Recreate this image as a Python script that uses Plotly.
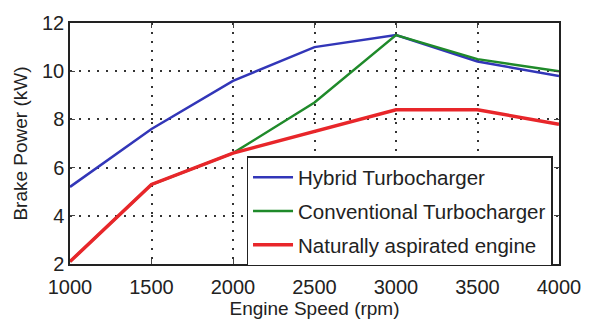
import plotly.graph_objects as go

rpm = [1000, 1500, 2000, 2500, 3000, 3500, 4000]
hybrid = [5.2, 7.6, 9.6, 11.0, 11.5, 10.4, 9.8]
conventional = [2.1, 5.3, 6.6, 8.7, 11.5, 10.5, 10.0]
natural = [2.1, 5.3, 6.6, 7.5, 8.4, 8.4, 7.8]

x_ticks = [1000, 1500, 2000, 2500, 3000, 3500, 4000]
y_ticks = [2, 4, 6, 8, 10, 12]

fig = go.Figure()
fig.add_trace(go.Scatter(x=rpm, y=hybrid, mode="lines", name="Hybrid Turbocharger",
                         line=dict(color="#3236b8", width=2.5), legendgroup="a"))
fig.add_trace(go.Scatter(x=rpm, y=conventional, mode="lines", name="Conventional Turbocharger",
                         line=dict(color="#1f8a2a", width=2.5), legendgroup="b"))
fig.add_trace(go.Scatter(x=rpm, y=natural, mode="lines", name="Naturally aspirated engine",
                         line=dict(color="#e8262a", width=3.5), legendgroup="c"))

font = "Liberation Sans, Arial, sans-serif"
fig.update_layout(
    width=593, height=327,
    margin=dict(l=70, r=33, t=15, b=62),
    paper_bgcolor="white", plot_bgcolor="white",
    font=dict(family=font, color="#222222", size=19),
    legend=dict(x=0.361, y=0.448, xanchor="left", yanchor="top",
                bordercolor="#222222", borderwidth=1.5, bgcolor="white",
                font=dict(size=20.5, family=font, color="#222222"),
                itemwidth=40,
                traceorder="grouped", tracegroupgap=4),
    xaxis=dict(range=[1000, 4000], tickvals=x_ticks, ticks="inside", ticklen=5,
               showline=True, linecolor="#222222", linewidth=1.5, mirror="ticks",
               showgrid=True, gridcolor="#333333", griddash="1.5px,7.5px", gridwidth=1.5,
               zeroline=False, tickfont=dict(size=20), ticklabelstandoff=4,
               title=dict(text="Engine Speed (rpm)", font=dict(size=19), standoff=4)),
    yaxis=dict(range=[2, 12], tickvals=y_ticks, ticks="inside", ticklen=5,
               showline=True, linecolor="#222222", linewidth=1.5, mirror="ticks",
               showgrid=True, gridcolor="#333333", griddash="1.5px,7.5px", gridwidth=1.5,
               zeroline=False, tickfont=dict(size=20),
               title=dict(text="Brake Power (kW)", font=dict(size=19), standoff=9)),
)

fig.write_html("out.html")
